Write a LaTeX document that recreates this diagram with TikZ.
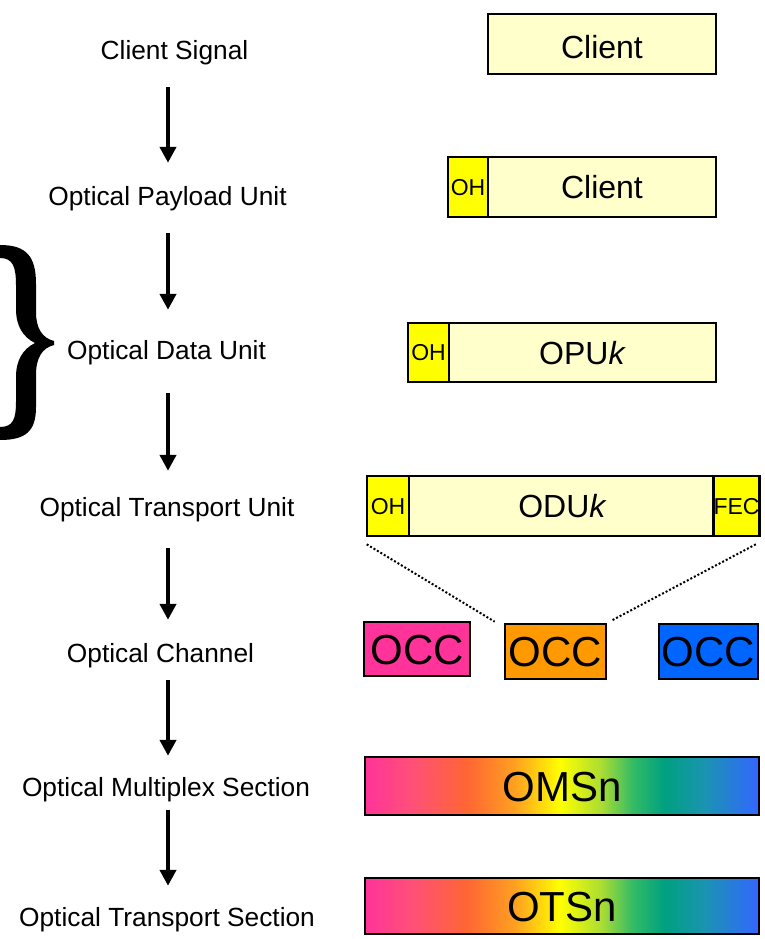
\documentclass[tikz,border=0pt]{standalone}
\usepackage{fontspec}
\setmainfont{Liberation Sans}
\usetikzlibrary{arrows.meta,calc}

% colours
\definecolor{paleyellow}{HTML}{FFFFCC}
\definecolor{ohyellow}{HTML}{FFFF00}
\definecolor{occpink}{HTML}{FF3399}
\definecolor{occorange}{HTML}{FF9900}
\definecolor{occblue}{HTML}{0066FF}
\definecolor{spA}{HTML}{FF3399}
\definecolor{spB}{HTML}{FF5078}
\definecolor{spC}{HTML}{FF6633}
\definecolor{spD}{HTML}{FFA020}
\definecolor{spE}{HTML}{FFFF00}
\definecolor{spF}{HTML}{AADD33}
\definecolor{spG}{HTML}{33BB66}
\definecolor{spH}{HTML}{00A080}
\definecolor{spI}{HTML}{1A94B0}
\definecolor{spJ}{HTML}{3366FF}

% wavelength spectrum across the multiplexed bars
\pgfdeclarehorizontalshading{spectrum}{100bp}{%
  color(0bp)=(spA); color(25bp)=(spA); color(31bp)=(spB); color(38bp)=(spC);
  color(44bp)=(spD); color(49.75bp)=(spE); color(55bp)=(spF); color(59bp)=(spG);
  color(63bp)=(spH); color(68bp)=(spI); color(75bp)=(spJ); color(100bp)=(spJ)}

\tikzset{
  lbl/.style={font=\fontsize{26.3}{30}\selectfont, inner sep=0pt,
              text height=18.8pt, text depth=0pt},
  frame/.style={draw=black, line width=2.6pt, inner sep=0pt},
  payload/.style={frame, fill=paleyellow, minimum height=60pt,
                  font=\fontsize{32}{36}\selectfont, text height=23pt, text depth=0pt},
  ohbox/.style={frame, fill=ohyellow, minimum height=60pt,
                font=\fontsize{23}{26}\selectfont, text height=16.5pt, text depth=0pt},
  occbox/.style={frame, minimum height=55pt,
                 font=\fontsize{42}{46}\selectfont, text height=30pt, text depth=0pt},
  bar/.style={frame, shading=spectrum, minimum width=394pt,
              font=\fontsize{42}{46}\selectfont, text height=30pt, text depth=0pt},
  flow/.style={line width=4pt, -{Triangle[width=16pt,length=16pt]}},
  dots/.style={line width=2pt, dash pattern=on 2pt off 2pt}
}

\begin{document}
\begin{tikzpicture}[x=1pt, y=-1pt]
\useasboundingbox (0,0) rectangle (764,939);

% layer names
\node[lbl] (l1) at (174.5,50)  {Client Signal};
\node[lbl] (l2) at (167.5,196) {Optical Payload Unit};
\node[lbl] (l3) at (166.5,350) {Optical Data Unit};
\node[lbl] (l4) at (167,507)   {Optical Transport Unit};
\node[lbl] (l5) at (160.5,653) {Optical Channel};
\node[lbl] (l6) at (166,787)   {Optical Multiplex Section};
\node[lbl] (l7) at (167,917)   {Optical Transport Section};
\coordinate (axis) at (168,0);

% mapping arrows
\draw[flow, shorten <=27.6pt, shorten >=23.6pt] (l1.south -| axis) -- (l2.north -| axis);
\draw[flow, shorten <=27.6pt, shorten >=30.6pt] (l2.south -| axis) -- (l3.north -| axis);
\draw[flow, shorten <=33.6pt, shorten >=26.6pt] (l3.south -| axis) -- (l4.north -| axis);
\draw[flow, shorten <=31.6pt, shorten >=23.6pt] (l4.south -| axis) -- (l5.north -| axis);
\draw[flow, shorten <=17.6pt, shorten >=21.6pt] (l5.south -| axis) -- (l6.north -| axis);
\draw[flow, shorten <=13.6pt, shorten >=21.6pt] (l6.south -| axis) -- (l7.north -| axis);

% brace
\fill[black] (0,245) .. controls (27,245) and (36,257) .. (36,284)
  -- (36,312) .. controls (36,328) and (42,338) .. (54,341)
  -- (54,345) .. controls (42,348) and (36,358) .. (36,375)
  -- (36,407) .. controls (36,431) and (26,440) .. (0,440)
  -- (0,427) .. controls (13,427) and (16,419) .. (16,402)
  -- (16,377) .. controls (16,360) and (23,349) .. (35,343)
  .. controls (23,337) and (16,326) .. (16,309)
  -- (16,285) .. controls (16,267) and (13,258) .. (0,258) -- cycle;

% client signal
\node[payload, minimum width=228pt, text height=29pt] (c1) at (602,44) {Client};

% OPU
\node[ohbox, minimum width=40pt] (oh2) at (468,187) {OH};
\node[payload, minimum width=228pt] (c2) at (602,187) {Client};

% ODU
\node[ohbox, minimum width=41pt, minimum height=59pt] (oh3) at (428.5,352.5) {OH};
\node[payload, minimum width=267pt, minimum height=59pt] (opu) at (582.5,352.5) {OPU\textit{k}};

% OTU
\node[ohbox, minimum width=42pt] (oh4) at (388,506) {OH};
\node[payload, minimum width=307pt] (odu) at (562.5,506) {ODU\textit{k}};
\node[ohbox, minimum width=41pt] (fec) at (736.5,506) {FEC};

% optical channel carriers
\node[occbox, fill=occpink, minimum width=106pt, minimum height=54pt] (occ1) at (417,649) {OCC};
\node[occbox, fill=occorange, minimum width=101pt] (occ2) at (555.5,651.5) {OCC};
\node[occbox, fill=occblue, minimum width=99pt] (occ3) at (708.5,651.5) {OCC};

\draw[dots] ([xshift=1pt,yshift=-7pt]oh4.south west) -- ([xshift=-9pt,yshift=1pt]occ2.north west);
\draw[dots] ([xshift=-5pt,yshift=-7pt]fec.south east) -- ([xshift=4pt,yshift=2pt]occ2.north east);

% multiplexed sections
\node[bar, minimum height=58pt] (oms) at (562,786) {OMSn};
\node[bar, minimum height=56pt] (ots) at (562,906) {OTSn};
\end{tikzpicture}
\end{document}
